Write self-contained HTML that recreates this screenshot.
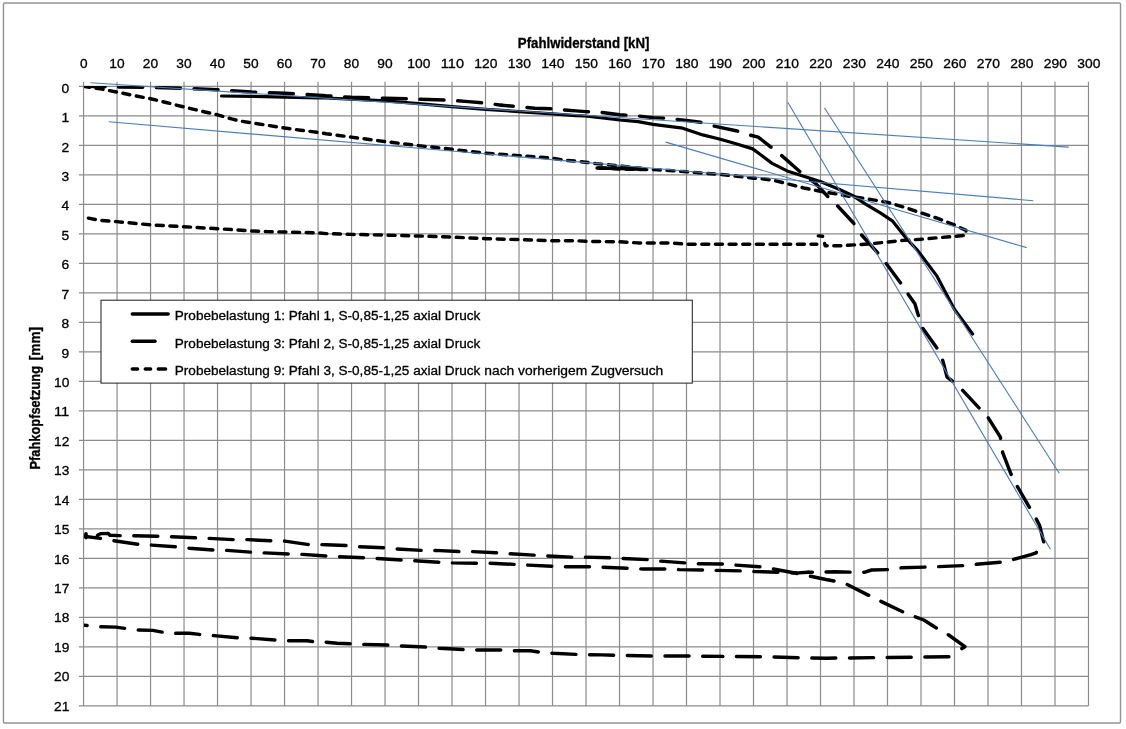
<!DOCTYPE html>
<html lang="de"><head><meta charset="utf-8"><title>Pfahlwiderstand</title>
<style>html,body{margin:0;padding:0;background:#fff}body{width:1126px;height:729px;overflow:hidden}svg{display:block}text{font-family:"Liberation Sans",sans-serif;fill:#000;stroke:#000;stroke-width:0.32px}</style></head><body>
<svg width="1126" height="729" viewBox="0 0 1126 729">
<rect x="0" y="0" width="1126" height="729" fill="#fff"/>
<rect x="3.45" y="2.95" width="1117.05" height="720.05" rx="1.2" fill="none" stroke="#929292" stroke-width="1.4"/>
<path d="M83.55 81.80V705.94M117.05 81.80V705.94M150.55 81.80V705.94M184.04 81.80V705.94M217.54 81.80V705.94M251.04 81.80V705.94M284.54 81.80V705.94M318.04 81.80V705.94M351.53 81.80V705.94M385.03 81.80V705.94M418.53 81.80V705.94M452.03 81.80V705.94M485.53 81.80V705.94M519.02 81.80V705.94M552.52 81.80V705.94M586.02 81.80V705.94M619.52 81.80V705.94M653.02 81.80V705.94M686.51 81.80V705.94M720.01 81.80V705.94M753.51 81.80V705.94M787.01 81.80V705.94M820.51 81.80V705.94M854.00 81.80V705.94M887.50 81.80V705.94M921.00 81.80V705.94M954.50 81.80V705.94M988.00 81.80V705.94M1021.49 81.80V705.94M1054.99 81.80V705.94M1088.49 81.80V705.94M78.95 86.40H1088.49M78.95 115.90H1088.49M78.95 145.40H1088.49M78.95 174.91H1088.49M78.95 204.41H1088.49M78.95 233.91H1088.49M78.95 263.41H1088.49M78.95 292.91H1088.49M78.95 322.42H1088.49M78.95 351.92H1088.49M78.95 381.42H1088.49M78.95 410.92H1088.49M78.95 440.42H1088.49M78.95 469.93H1088.49M78.95 499.43H1088.49M78.95 528.93H1088.49M78.95 558.43H1088.49M78.95 587.93H1088.49M78.95 617.44H1088.49M78.95 646.94H1088.49M78.95 676.44H1088.49M78.95 705.94H1088.49" fill="none" stroke="#8c8c8c" stroke-width="1.2"/>
<clipPath id="plot"><rect x="83.95" y="86.10" width="1004.54" height="619.84"/></clipPath><g clip-path="url(#plot)">
<polyline points="83.8,86.4 100.4,88.9 116.7,92.0 133.8,95.6 150.7,98.7 167.1,102.7 184.2,107.1 200.4,110.9 217.6,114.9 231.6,118.9 240.4,121.1 251.3,122.7 267.1,125.3 284.4,128.0 300.4,130.2 318.2,132.4 326.0,133.7 351.1,137.1 385.1,141.6 418.4,145.6 451.8,149.3 485.8,153.3 519.1,155.6 552.4,158.2 565.0,160.3 576.0,161.1 585.3,162.2 596.0,163.6 609.8,164.9 622.2,166.1 641.0,168.3 620.0,168.2 595.4,167.8 620.0,169.0 641.0,169.6 654.5,169.6 669.5,170.5 686.4,171.8 720.4,174.4 753.6,178.2 760.0,178.5 775.1,180.7 787.1,183.7 805.2,188.3 820.3,191.3 838.4,194.3 854.0,197.0 871.6,199.6 887.5,202.4 903.8,207.1 920.4,212.7 937.1,218.2 954.4,224.9 966.0,230.4 965.6,235.3 954.4,236.4 937.1,237.8 920.4,239.3 903.8,240.4 887.3,242.0 870.4,243.8 854.0,244.9 839.3,245.8 825.2,245.8 824.6,243.5" fill="none" stroke="#000" stroke-width="3.45" stroke-linecap="round" stroke-linejoin="round" stroke-dasharray="7 6.65" stroke-dashoffset="1.2"/>
<polyline points="818.3,235.9 822.6,236.3" fill="none" stroke="#000" stroke-width="3.45" stroke-linecap="round" stroke-linejoin="round"/>
<polyline points="816.8,244.2 753.6,244.2 720.4,244.2 686.4,244.2 671.6,242.9 653.1,242.9 638.2,242.9 619.8,241.8 585.3,241.3 576.0,240.7 552.4,240.7 519.1,239.6 485.8,238.7 451.8,237.1 418.4,236.0 385.1,235.1 351.1,234.4 326.0,233.6 318.2,232.9 300.4,232.4 284.4,232.0 267.1,231.6 251.3,230.9 236.0,229.8 217.6,228.7 200.4,227.8 184.2,226.7 167.1,225.8 150.7,224.9 133.8,223.3 116.7,221.6 100.4,220.4 83.8,217.3" fill="none" stroke="#000" stroke-width="3.45" stroke-linecap="round" stroke-linejoin="round" stroke-dasharray="7 6.65" stroke-dashoffset="1.2"/>
<polyline points="83.8,86.4 116.7,86.9 150.7,87.3 184.2,88.4 217.6,89.8 251.3,92.0 284.4,93.3 318.2,95.1 326.0,95.8 351.1,97.3 385.1,98.2 418.4,99.1 451.8,100.4 468.2,101.6 485.8,103.1 501.6,105.3" fill="none" stroke="#000" stroke-width="3.45" stroke-linecap="round" stroke-linejoin="round" stroke-dasharray="24 13.7" stroke-dashoffset="2.8"/>
<polyline points="501.6,105.3 519.1,106.7 534.9,108.2 552.4,108.9 576.0,110.9 585.3,111.6 600.4,112.2 619.8,114.7 638.2,116.0 653.1,117.6 664.9,118.2 686.4,120.4 700.4,122.2 713.8,126.0 736.0,130.7 749.3,134.9 758.2,137.1 770.6,146.8 781.1,155.1 800.0,171.7 815.8,183.7 827.9,196.6 836.9,205.2 853.5,223.0 861.0,234.3 877.1,252.2 885.6,262.7 900.4,282.7 907.1,292.7 914.9,303.8 918.2,314.9 922.7,328.2 936.7,347.8 942.7,360.4 947.1,377.1 952.7,381.3 962.7,390.4 979.3,408.2 988.2,417.8 1000.4,437.1 1002.7,452.7 1010.9,473.8 1017.1,486.0 1029.3,507.1 1036.0,518.5 1039.6,525.5 1043.8,542.2" fill="none" stroke="#000" stroke-width="3.45" stroke-linecap="round" stroke-linejoin="round" stroke-dasharray="24 13.7" stroke-dashoffset="12.3"/>
<polyline points="1043.8,542.2 1036.0,552.9 1031.0,554.6 1012.7,559.6 1000.4,562.2 975.3,564.4 962.7,565.6 937.1,566.7 924.9,567.1 901.6,567.8 889.3,569.6 871.6,570.0 864.9,572.2 852.7,572.2 834.9,571.8 816.0,572.2 808.2,572.2" fill="none" stroke="#000" stroke-width="3.45" stroke-linecap="round" stroke-linejoin="round" stroke-dasharray="24 13.7" stroke-dashoffset="25.1"/>
<polyline points="808.2,572.2 798.2,572.9 783.8,572.6 779.3,572.2 754.9,571.6 741.6,570.9 717.1,570.4 703.8,570.0 679.3,569.6 666.0,568.9 641.6,568.9 628.2,568.2 602.7,567.3 590.4,566.7 576.0,566.7 566.0,566.7 552.7,566.2 528.2,565.1 514.9,564.4 490.4,563.3 477.1,563.3 452.7,562.9 439.3,562.2 414.9,560.7 401.6,560.0 377.1,558.4 364.9,557.8 339.3,556.7 326.0,556.0 302.7,554.4 289.3,554.0 264.9,552.9 251.6,552.2 227.1,550.4 213.8,550.0 189.3,548.2 176.0,546.7 151.6,545.1 138.2,544.4 113.8,540.7 100.4,538.4 83.8,536.2" fill="none" stroke="#000" stroke-width="3.45" stroke-linecap="round" stroke-linejoin="round" stroke-dasharray="24 13.7" stroke-dashoffset="7.3"/>
<polyline points="96.8,536.3 98.6,534.5 101.0,533.6 108.3,533.5 110.0,535.3 119.3,535.6 133.8,535.8 157.1,536.2 171.6,536.7 194.9,537.8 209.3,538.4 232.7,539.6 247.1,539.6 270.4,540.7 284.9,541.1 307.1,544.4 326.0,544.7 346.0,545.6 359.3,546.7 383.8,547.8 397.1,548.9 421.6,550.4 434.9,550.4 459.3,551.6 472.7,551.6 496.0,552.7 509.3,553.8 533.8,555.1 547.1,556.0 571.6,557.1 584.9,557.1 609.3,557.8 622.7,558.4 647.1,559.6 660.4,561.1 684.9,562.9 698.2,563.8 722.7,564.0 736.0,565.1 759.3,566.7 772.7,568.9 796.0,573.3 826.0,579.5 834.9,581.1 847.1,584.4 868.2,595.1 880.4,601.1 902.7,611.8 914.9,616.7 923.8,620.0 936.0,627.8 947.8,634.4 964.9,646.7 960.4,649.5" fill="none" stroke="#000" stroke-width="3.45" stroke-linecap="round" stroke-linejoin="round" stroke-dasharray="24 13.7" stroke-dashoffset="36.7"/>
<polyline points="950.4,656.7 826.0,658.2 798.2,657.8 761.6,656.7 722.7,656.4" fill="none" stroke="#000" stroke-width="3.45" stroke-linecap="round" stroke-linejoin="round" stroke-dasharray="24 13.7" stroke-dashoffset="36.2"/>
<polyline points="722.7,656.4 690.4,656.0 652.7,656.0 601.6,654.9 576.0,654.4 552.7,653.3 539.3,652.2 530.4,650.7 514.9,650.7 501.6,650.0 477.1,650.0 463.8,649.6 439.3,648.2 426.0,647.1 401.6,646.0 388.2,645.1 363.8,644.4 350.4,643.8 337.1,643.3 326.0,642.2 313.8,641.6 307.1,640.7 288.2,640.7 276.0,640.0 251.6,638.2 238.2,637.8 213.8,635.6 199.3,634.4 189.3,633.3 176.0,633.3 162.7,632.2 152.7,630.4 138.2,630.0 124.9,628.4 116.0,627.1 100.4,626.7 83.8,625.1" fill="none" stroke="#000" stroke-width="3.45" stroke-linecap="round" stroke-linejoin="round" stroke-dasharray="24 13.7" stroke-dashoffset="4.0"/>
<polyline points="221.5,96.0 251.3,96.3 284.4,97.1 318.2,98.0 326.0,98.0 351.1,99.1 385.1,100.9 418.4,103.6 451.8,106.7 485.8,109.3 519.1,111.6 552.4,113.8 576.0,115.6 585.3,116.0 619.8,120.0 638.2,121.6 653.1,124.4 682.7,128.2 702.7,134.9 720.4,139.3 736.0,143.8 752.7,148.9 760.0,154.3 772.1,163.4 787.1,170.9 803.7,176.2 820.3,181.5 838.4,189.0 854.0,196.3 865.6,204.1 880.7,213.2 892.7,221.2 906.0,238.0 917.6,250.4 936.6,275.6 954.4,309.2 972.6,334.0" fill="none" stroke="#000" stroke-width="3.2" stroke-linecap="round" stroke-linejoin="round"/>
<path d="M597 168L620 168.7L641 169.4" fill="none" stroke="#000" stroke-width="3.3" stroke-linecap="round"/>
<path d="M86 533.8V537.6" fill="none" stroke="#000" stroke-width="3.6" stroke-linecap="round"/>
</g>
<line x1="90.4" y1="82.7" x2="1068.7" y2="147.1" stroke="#4a7ebb" stroke-width="1.12"/>
<line x1="108.9" y1="121.8" x2="1033.3" y2="200.7" stroke="#4a7ebb" stroke-width="1.12"/>
<line x1="665.7" y1="142.1" x2="1026.7" y2="247.6" stroke="#4a7ebb" stroke-width="1.12"/>
<line x1="787.8" y1="102.2" x2="1050.4" y2="549.3" stroke="#4a7ebb" stroke-width="1.12"/>
<line x1="824.4" y1="107.8" x2="1059.3" y2="473.3" stroke="#4a7ebb" stroke-width="1.12"/>
<text x="83.8" y="67.9" font-size="13.7" text-anchor="middle" textLength="7.6" lengthAdjust="spacingAndGlyphs">0</text>
<text x="117.0" y="67.9" font-size="13.7" text-anchor="middle" textLength="15.3" lengthAdjust="spacingAndGlyphs">10</text>
<text x="150.5" y="67.9" font-size="13.7" text-anchor="middle" textLength="15.3" lengthAdjust="spacingAndGlyphs">20</text>
<text x="184.0" y="67.9" font-size="13.7" text-anchor="middle" textLength="15.3" lengthAdjust="spacingAndGlyphs">30</text>
<text x="217.5" y="67.9" font-size="13.7" text-anchor="middle" textLength="15.3" lengthAdjust="spacingAndGlyphs">40</text>
<text x="251.0" y="67.9" font-size="13.7" text-anchor="middle" textLength="15.3" lengthAdjust="spacingAndGlyphs">50</text>
<text x="284.5" y="67.9" font-size="13.7" text-anchor="middle" textLength="15.3" lengthAdjust="spacingAndGlyphs">60</text>
<text x="318.0" y="67.9" font-size="13.7" text-anchor="middle" textLength="15.3" lengthAdjust="spacingAndGlyphs">70</text>
<text x="351.5" y="67.9" font-size="13.7" text-anchor="middle" textLength="15.3" lengthAdjust="spacingAndGlyphs">80</text>
<text x="385.0" y="67.9" font-size="13.7" text-anchor="middle" textLength="15.3" lengthAdjust="spacingAndGlyphs">90</text>
<text x="418.9" y="67.9" font-size="13.7" text-anchor="middle" textLength="23.1" lengthAdjust="spacingAndGlyphs">100</text>
<text x="452.4" y="67.9" font-size="13.7" text-anchor="middle" textLength="23.1" lengthAdjust="spacingAndGlyphs">110</text>
<text x="485.9" y="67.9" font-size="13.7" text-anchor="middle" textLength="23.1" lengthAdjust="spacingAndGlyphs">120</text>
<text x="519.4" y="67.9" font-size="13.7" text-anchor="middle" textLength="23.1" lengthAdjust="spacingAndGlyphs">130</text>
<text x="552.9" y="67.9" font-size="13.7" text-anchor="middle" textLength="23.1" lengthAdjust="spacingAndGlyphs">140</text>
<text x="586.4" y="67.9" font-size="13.7" text-anchor="middle" textLength="23.1" lengthAdjust="spacingAndGlyphs">150</text>
<text x="619.9" y="67.9" font-size="13.7" text-anchor="middle" textLength="23.1" lengthAdjust="spacingAndGlyphs">160</text>
<text x="653.4" y="67.9" font-size="13.7" text-anchor="middle" textLength="23.1" lengthAdjust="spacingAndGlyphs">170</text>
<text x="686.9" y="67.9" font-size="13.7" text-anchor="middle" textLength="23.1" lengthAdjust="spacingAndGlyphs">180</text>
<text x="720.4" y="67.9" font-size="13.7" text-anchor="middle" textLength="23.1" lengthAdjust="spacingAndGlyphs">190</text>
<text x="753.9" y="67.9" font-size="13.7" text-anchor="middle" textLength="23.1" lengthAdjust="spacingAndGlyphs">200</text>
<text x="787.4" y="67.9" font-size="13.7" text-anchor="middle" textLength="23.1" lengthAdjust="spacingAndGlyphs">210</text>
<text x="820.9" y="67.9" font-size="13.7" text-anchor="middle" textLength="23.1" lengthAdjust="spacingAndGlyphs">220</text>
<text x="854.4" y="67.9" font-size="13.7" text-anchor="middle" textLength="23.1" lengthAdjust="spacingAndGlyphs">230</text>
<text x="887.9" y="67.9" font-size="13.7" text-anchor="middle" textLength="23.1" lengthAdjust="spacingAndGlyphs">240</text>
<text x="921.4" y="67.9" font-size="13.7" text-anchor="middle" textLength="23.1" lengthAdjust="spacingAndGlyphs">250</text>
<text x="954.9" y="67.9" font-size="13.7" text-anchor="middle" textLength="23.1" lengthAdjust="spacingAndGlyphs">260</text>
<text x="988.4" y="67.9" font-size="13.7" text-anchor="middle" textLength="23.1" lengthAdjust="spacingAndGlyphs">270</text>
<text x="1021.9" y="67.9" font-size="13.7" text-anchor="middle" textLength="23.1" lengthAdjust="spacingAndGlyphs">280</text>
<text x="1055.4" y="67.9" font-size="13.7" text-anchor="middle" textLength="23.1" lengthAdjust="spacingAndGlyphs">290</text>
<text x="1088.9" y="67.9" font-size="13.7" text-anchor="middle" textLength="23.1" lengthAdjust="spacingAndGlyphs">300</text>
<text x="69.3" y="92.7" font-size="13.7" text-anchor="end" textLength="7.7" lengthAdjust="spacingAndGlyphs">0</text>
<text x="69.3" y="122.1" font-size="13.7" text-anchor="end" textLength="7.7" lengthAdjust="spacingAndGlyphs">1</text>
<text x="69.3" y="151.6" font-size="13.7" text-anchor="end" textLength="7.7" lengthAdjust="spacingAndGlyphs">2</text>
<text x="69.3" y="181.0" font-size="13.7" text-anchor="end" textLength="7.7" lengthAdjust="spacingAndGlyphs">3</text>
<text x="69.3" y="210.4" font-size="13.7" text-anchor="end" textLength="7.7" lengthAdjust="spacingAndGlyphs">4</text>
<text x="69.3" y="239.9" font-size="13.7" text-anchor="end" textLength="7.7" lengthAdjust="spacingAndGlyphs">5</text>
<text x="69.3" y="269.3" font-size="13.7" text-anchor="end" textLength="7.7" lengthAdjust="spacingAndGlyphs">6</text>
<text x="69.3" y="298.7" font-size="13.7" text-anchor="end" textLength="7.7" lengthAdjust="spacingAndGlyphs">7</text>
<text x="69.3" y="328.1" font-size="13.7" text-anchor="end" textLength="7.7" lengthAdjust="spacingAndGlyphs">8</text>
<text x="69.3" y="357.6" font-size="13.7" text-anchor="end" textLength="7.7" lengthAdjust="spacingAndGlyphs">9</text>
<text x="69.3" y="387.0" font-size="13.7" text-anchor="end" textLength="15.3" lengthAdjust="spacingAndGlyphs">10</text>
<text x="69.3" y="416.4" font-size="13.7" text-anchor="end" textLength="15.3" lengthAdjust="spacingAndGlyphs">11</text>
<text x="69.3" y="445.9" font-size="13.7" text-anchor="end" textLength="15.3" lengthAdjust="spacingAndGlyphs">12</text>
<text x="69.3" y="475.3" font-size="13.7" text-anchor="end" textLength="15.3" lengthAdjust="spacingAndGlyphs">13</text>
<text x="69.3" y="504.7" font-size="13.7" text-anchor="end" textLength="15.3" lengthAdjust="spacingAndGlyphs">14</text>
<text x="69.3" y="534.1" font-size="13.7" text-anchor="end" textLength="15.3" lengthAdjust="spacingAndGlyphs">15</text>
<text x="69.3" y="563.6" font-size="13.7" text-anchor="end" textLength="15.3" lengthAdjust="spacingAndGlyphs">16</text>
<text x="69.3" y="593.0" font-size="13.7" text-anchor="end" textLength="15.3" lengthAdjust="spacingAndGlyphs">17</text>
<text x="69.3" y="622.4" font-size="13.7" text-anchor="end" textLength="15.3" lengthAdjust="spacingAndGlyphs">18</text>
<text x="69.3" y="651.9" font-size="13.7" text-anchor="end" textLength="15.3" lengthAdjust="spacingAndGlyphs">19</text>
<text x="69.3" y="681.3" font-size="13.7" text-anchor="end" textLength="15.3" lengthAdjust="spacingAndGlyphs">20</text>
<text x="69.3" y="710.7" font-size="13.7" text-anchor="end" textLength="15.3" lengthAdjust="spacingAndGlyphs">21</text>
<text x="583.6" y="47.8" font-size="13.8" font-weight="bold" stroke-width="0.25" text-anchor="middle" textLength="131.5" lengthAdjust="spacingAndGlyphs">Pfahlwiderstand [kN]</text>
<text transform="translate(39.7 469.6) rotate(-90)" font-size="13.8" font-weight="bold" stroke-width="0.25" textLength="103.6" lengthAdjust="spacingAndGlyphs">Pfahkopfsetzung</text>
<text transform="translate(39.7 360.3) rotate(-90)" font-size="13.8" font-weight="bold" stroke-width="0.25" textLength="33.4" lengthAdjust="spacingAndGlyphs">[mm]</text>
<rect x="101" y="300.2" width="591.3" height="82.9" fill="#fff" stroke="#1c1c1c" stroke-width="1"/>
<line x1="132.3" y1="314" x2="168.2" y2="314" stroke="#000" stroke-width="3.45" stroke-linecap="round"/>
<line x1="132.3" y1="341.3" x2="155" y2="341.3" stroke="#000" stroke-width="3.45" stroke-linecap="round"/>
<path d="M132.3 369H137.6M145.3 369H150.6M158.3 369H165.6" fill="none" stroke="#000" stroke-width="3.45" stroke-linecap="round"/>
<text x="174.8" y="319.9" font-size="13.7" textLength="305.5" lengthAdjust="spacingAndGlyphs">Probebelastung 1: Pfahl 1, S-0,85-1,25 axial Druck</text>
<text x="174.8" y="347.5" font-size="13.7" textLength="305.5" lengthAdjust="spacingAndGlyphs">Probebelastung 3: Pfahl 2, S-0,85-1,25 axial Druck</text>
<text x="174.8" y="375.3" font-size="13.7" textLength="305.5" lengthAdjust="spacingAndGlyphs">Probebelastung 9: Pfahl 3, S-0,85-1,25 axial Druck</text>
<text x="484.3" y="375.3" font-size="13.7" textLength="179" lengthAdjust="spacingAndGlyphs">nach vorherigem Zugversuch</text>
</svg></body></html>
